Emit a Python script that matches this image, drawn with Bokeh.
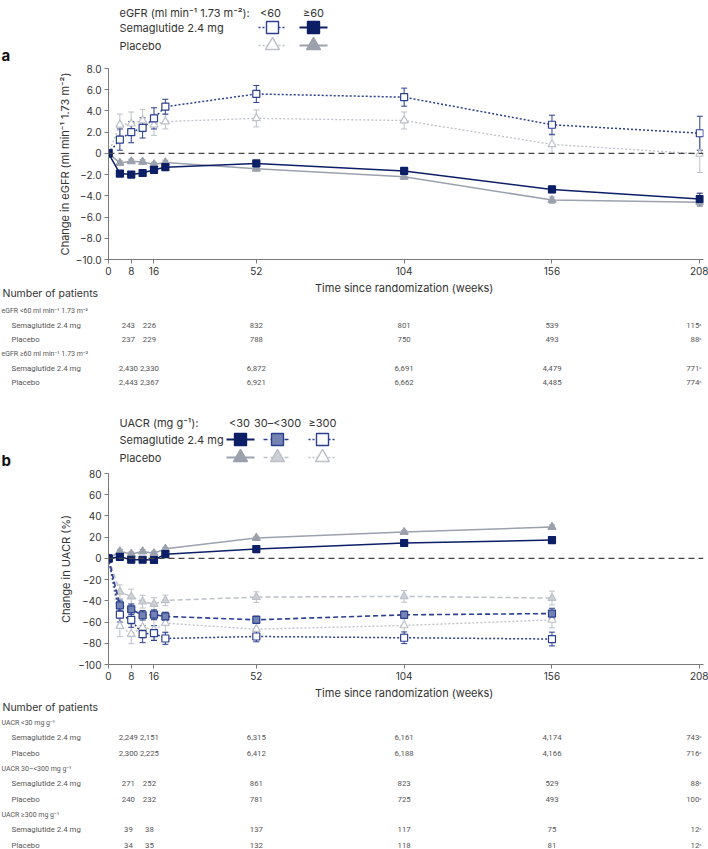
from bokeh.plotting import figure
from bokeh.models import ColumnDataSource, Whisker, TeeHead, Span, FixedTicker, Range1d
from bokeh.embed import file_html
from bokeh.resources import INLINE
from bokeh.core.properties import value

# ---------------- data: panel a (eGFR) ----------------
weeks_a = [0, 4, 8, 12, 16, 20, 52, 104, 156, 208]
sema_lt60 = [0, 1.3, 2.0, 2.4, 3.3, 4.4, 5.6, 5.3, 2.7, 1.9]
sema_lt60_err = [0, 1.0, 1.0, 0.95, 1.0, 0.7, 0.8, 0.85, 0.9, 1.6]
plac_lt60 = [0, 2.7, 2.8, 3.1, 2.7, 3.0, 3.3, 3.1, 0.85, -0.05]
plac_lt60_err = [0, 1.0, 1.1, 1.05, 1.0, 0.7, 0.8, 0.8, 0.85, 1.75]
sema_ge60 = [0, -1.9, -2.0, -1.85, -1.55, -1.3, -0.95, -1.65, -3.4, -4.3]
sema_ge60_err = [0, 0.2, 0.2, 0.2, 0.2, 0.2, 0.2, 0.25, 0.3, 0.55]
plac_ge60 = [0, -0.9, -0.75, -0.8, -1.05, -0.85, -1.45, -2.2, -4.4, -4.6]
plac_ge60_err = [0, 0.2, 0.2, 0.2, 0.2, 0.2, 0.2, 0.25, 0.3, 0.4]

# ---------------- data: panel b (UACR) ----------------
weeks_b = [0, 4, 8, 12, 16, 20, 52, 104, 156]
sema_lt30 = [0, 1.5, -1.3, -1.3, -1.5, 4.0, 8.8, 14.5, 17.3]
sema_lt30_err = [0, 1.5, 1.5, 1.5, 1.5, 1.2, 1.2, 1.3, 1.5]
plac_lt30 = [0, 6.5, 4.2, 6.5, 4.8, 9.0, 19.2, 24.8, 29.6]
plac_lt30_err = [0, 1.8, 1.8, 1.8, 1.8, 1.5, 1.5, 1.6, 1.8]
sema_30_300 = [0, -44.3, -48.0, -53.6, -53.0, -54.7, -57.9, -53.2, -52.0]
sema_30_300_err = [0, 5.0, 5.0, 4.5, 4.5, 4.0, 3.5, 3.5, 5.0]
plac_30_300 = [0, -31.5, -36.0, -40.8, -43.0, -39.6, -36.5, -35.8, -37.4]
plac_30_300_err = [0, 6.5, 7.0, 6.0, 6.0, 5.0, 5.0, 5.5, 6.5]
sema_ge300 = [0, -53.0, -57.9, -71.4, -70.4, -75.5, -73.6, -74.8, -76.0]
sema_ge300_err = [0, 7.0, 7.0, 8.0, 7.0, 5.5, 5.0, 5.5, 6.5]
plac_ge300 = [0, -63.8, -71.4, -65.0, -67.3, -61.0, -66.7, -63.2, -58.0]
plac_ge300_err = [0, 10.0, 9.0, 10.0, 9.0, 8.0, 7.0, 8.0, 7.5]

# ---------------- ticks ----------------
x_ticks = [0, 8, 16, 52, 104, 156, 208]
y_ticks_a = [-10, -8, -6, -4, -2, 0, 2, 4, 6, 8]
y_labels_a = ["\u221210.0", "\u22128.0", "\u22126.0", "\u22124.0", "\u22122.0", "0", "2.0", "4.0", "6.0", "8.0"]
y_ticks_b = [-100, -80, -60, -40, -20, 0, 20, 40, 60, 80]
y_labels_b = ["\u2212100", "\u221280", "\u221260", "\u221240", "\u221220", "0", "20", "40", "60", "80"]

# ---------------- number-at-risk tables ----------------
table_weeks = [7.0, 14.4, 52, 104, 156, 208]
tab_a_groups = ["eGFR <60 ml min\u207b\u00b9 1.73 m\u207b\u00b2", "eGFR \u226560 ml min\u207b\u00b9 1.73 m\u207b\u00b2"]
tab_a_sema = [["243", "226", "832", "801", "539", "115\u1d43"],
              ["2,430", "2,330", "6,872", "6,691", "4,479", "771\u1d43"]]
tab_a_plac = [["237", "229", "788", "750", "493", "88\u1d43"],
              ["2,443", "2,367", "6,921", "6,662", "4,485", "774\u1d43"]]
tab_b_groups = ["UACR <30 mg g\u207b\u00b9", "UACR 30\u2013<300 mg g\u207b\u00b9", "UACR \u2265300 mg g\u207b\u00b9"]
tab_b_sema = [["2,249", "2,151", "6,315", "6,161", "4,174", "743\u1d43"],
              ["271", "252", "861", "823", "529", "88\u1d43"],
              ["39", "38", "137", "117", "75", "12\u1d43"]]
tab_b_plac = [["2,300", "2,225", "6,412", "6,188", "4,166", "716\u1d43"],
              ["240", "232", "781", "725", "493", "100\u1d43"],
              ["34", "35", "132", "118", "81", "12\u1d43"]]

# ---------------- styling ----------------
W = 708
X_END = 209.3
FRAME_L = 108
FRAME_W = 595
S = FRAME_W / X_END  # px per week
FONT = "Inter"
TFONT = "Roboto"
TXT = "#333333"
TTXT = "#555555"
AX = "#7a7a7a"
NAVY = "#0c1f66"
BLUE = "#2b3f8f"
GRAY = "#9ba1ad"
LGRAY = "#bcc0c8"
MIDFILL = "#7583b3"
LFILL = "#cdd0d6"
DOT = "2 2"
DASH = "5 3"


def px2wk(px):
    return (px - FRAME_L) / S


def style_blank(p):
    p.grid.visible = False
    p.outline_line_color = None
    p.background_fill_color = "white"
    p.border_fill_color = "white"


def series(p, x, y, err, color, fill, marker, size, dash, lw):
    p.line(x, y, line_color=color, line_width=lw, line_dash=dash)
    xs = [a for a, e in zip(x, err) if e > 0]
    lo = [b - e for b, e in zip(y, err) if e > 0]
    hi = [b + e for b, e in zip(y, err) if e > 0]
    src = ColumnDataSource(dict(x=xs, lo=lo, hi=hi))
    w = Whisker(source=src, base="x", lower="lo", upper="hi", line_color=color, line_width=1,
                upper_head=TeeHead(size=6, line_color=color, line_width=1),
                lower_head=TeeHead(size=6, line_color=color, line_width=1))
    p.add_layout(w)
    p.scatter(x, y, marker=marker, size=size, fill_color=fill, line_color=color, line_width=1.2)


def make_plot(h, top, yr, yticks, ylabels, ylabel, standoff):
    p = figure(width=W, height=h, x_range=Range1d(0, X_END), y_range=Range1d(*yr),
               output_backend="svg", toolbar_location=None,
               min_border_left=FRAME_L, min_border_right=W - FRAME_L - FRAME_W,
               min_border_top=top, min_border_bottom=22)
    style_blank(p)
    for ax in (p.xaxis, p.yaxis):
        ax.axis_line_color = AX
        ax.major_tick_line_color = AX
        ax.minor_tick_line_color = None
        ax.major_tick_out = 4
        ax.major_tick_in = 0
        ax.major_label_text_font = FONT
        ax.major_label_text_font_size = "10px"
        ax.major_label_text_color = TXT
        ax.major_label_standoff = 3
    p.xaxis.ticker = FixedTicker(ticks=x_ticks)
    p.yaxis.ticker = FixedTicker(ticks=yticks)
    p.yaxis.major_label_overrides = {t: l for t, l in zip(yticks, ylabels)}
    p.yaxis.axis_label = ylabel
    p.yaxis.axis_label_text_font = FONT
    p.yaxis.axis_label_text_font_size = "11px"
    p.yaxis.axis_label_text_font_style = "normal"
    p.yaxis.axis_label_text_color = TXT
    p.yaxis.axis_label_standoff = standoff
    p.add_layout(Span(location=0, dimension="width", line_color="#444444", line_width=1.2, line_dash="6 4"))
    return p


def legend_fig(h, tag, tag_y, header, cols, col_x, row_y, head_y, samples):
    p = figure(width=W, height=h, x_range=Range1d(0, W), y_range=Range1d(h, 0),
               output_backend="svg", toolbar_location=None, min_border=0,
               min_border_left=0, min_border_right=0, min_border_top=0, min_border_bottom=0,
               x_axis_location=None, y_axis_location=None)
    style_blank(p)
    p.text(x=[1], y=[tag_y], text=[tag], text_font=value(FONT), text_font_size=value("15px"),
           text_font_style="bold", text_color="#111111", text_baseline="middle", text_align="left")
    p.text(x=[119], y=[head_y], text=[header], text_font=value(FONT), text_font_size=value("11px"),
           text_color=TXT, text_baseline="middle", text_align="left")
    p.text(x=col_x, y=[head_y] * len(col_x), text=cols, text_font=value(FONT), text_font_size=value("11px"),
           text_color=TXT, text_baseline="middle", text_align="center")
    p.text(x=[119, 119], y=row_y, text=["Semaglutide 2.4 mg", "Placebo"], text_font=value(FONT),
           text_font_size=value("11px"), text_color=TXT, text_baseline="middle", text_align="left")
    for (cx, ry, color, fill, marker, size, dash, lw) in samples:
        p.line([cx - 14, cx + 14], [ry, ry], line_color=color, line_width=lw, line_dash=dash)
        p.scatter([cx], [ry], marker=marker, size=size, fill_color=fill, line_color=color, line_width=1.4)
    return p


def table_fig(h, label_y, title_y, groups, sema, plac, group_y, d1, d2):
    p = figure(width=W, height=h, x_range=Range1d(px2wk(0), px2wk(W)), y_range=Range1d(h, 0),
               output_backend="svg", toolbar_location=None, min_border=0,
               min_border_left=0, min_border_right=0, min_border_top=0, min_border_bottom=0,
               x_axis_location=None, y_axis_location=None)
    style_blank(p)
    p.text(x=[104], y=[label_y], text=["Time since randomization (weeks)"], text_font=value(FONT),
           text_font_size=value("11px"), text_color=TXT, text_baseline="middle", text_align="center")
    p.text(x=[px2wk(2)], y=[title_y], text=["Number of patients"], text_font=value(FONT),
           text_font_size=value("10.5px"), text_color=TXT, text_baseline="middle", text_align="left")
    for g, gy, srow, prow in zip(groups, group_y, sema, plac):
        p.text(x=[px2wk(1)], y=[gy], text=[g], text_font=value(TFONT), text_font_size=value("7px"),
               text_color=TTXT, text_baseline="middle", text_align="left")
        for ry, name, row in ((gy + d1, "Semaglutide 2.4 mg", srow), (gy + d2, "Placebo", prow)):
            p.text(x=[px2wk(11)], y=[ry], text=[name], text_font=value(TFONT), text_font_size=value("7.8px"),
                   text_color=TTXT, text_baseline="middle", text_align="left")
            p.text(x=table_weeks[:-1], y=[ry] * 5, text=row[:-1], text_font=value(TFONT),
                   text_font_size=value("7.8px"), text_color=TTXT, text_baseline="middle", text_align="center")
            p.text(x=[px2wk(701)], y=[ry], text=[row[-1]], text_font=value(TFONT),
                   text_font_size=value("7.8px"), text_color=TTXT, text_baseline="middle", text_align="right")
    return p


# ---------------- panel a ----------------
leg_a = legend_fig(64, "a", 55, "eGFR (ml min\u207b\u00b9 1.73 m\u207b\u00b2):", ["<60", "\u226560"], [270, 313],
                   [27, 45], 12,
                   [(272, 27, BLUE, "white", "square", 12, DOT, 1.5),
                    (313, 27, NAVY, NAVY, "square", 12, "solid", 2),
                    (272, 45, LGRAY, "white", "triangle", 14, DOT, 1.5),
                    (313, 45, GRAY, GRAY, "triangle", 14, "solid", 2)])

pa = make_plot(217, 4, (-10, 8), y_ticks_a, y_labels_a,
               "Change in eGFR (ml min\u207b\u00b9 1.73 m\u207b\u00b2)", 1)
series(pa, weeks_a, plac_lt60, plac_lt60_err, LGRAY, "white", "triangle", 8, DOT, 1.3)
series(pa, weeks_a, plac_ge60, plac_ge60_err, GRAY, GRAY, "triangle", 8, "solid", 1.5)
series(pa, weeks_a, sema_lt60, sema_lt60_err, BLUE, "white", "square", 7, DOT, 1.5)
series(pa, weeks_a, sema_ge60, sema_ge60_err, NAVY, NAVY, "square", 7, "solid", 1.5)

tab_a = table_fig(111, 6, 12, tab_a_groups, tab_a_sema, tab_a_plac, [29, 72], 14.5, 29)

# ---------------- panel b ----------------
leg_b = legend_fig(77, "b", 67.5, "UACR (mg g\u207b\u00b9):", ["<30", "30\u2013<300", "\u2265300"], [239, 277, 322],
                   [47, 65], 30,
                   [(240, 47, NAVY, NAVY, "square", 12, "solid", 2),
                    (277, 47, BLUE, MIDFILL, "square", 12, "4 3", 1.5),
                    (322, 47, BLUE, "white", "square", 12, DOT, 1.5),
                    (240, 65, GRAY, GRAY, "triangle", 14, "solid", 2),
                    (277, 65, LGRAY, LFILL, "triangle", 14, "4 3", 1.5),
                    (322, 65, LGRAY, "white", "triangle", 14, DOT, 1.5)])

pb = make_plot(217, 4, (-100, 80), y_ticks_b, y_labels_b, "Change in UACR (%)", 2)
series(pb, weeks_b, plac_ge300, plac_ge300_err, LGRAY, "white", "triangle", 8, DOT, 1.3)
series(pb, weeks_b, plac_30_300, plac_30_300_err, LGRAY, LFILL, "triangle", 8, DASH, 1.5)
series(pb, weeks_b, plac_lt30, plac_lt30_err, GRAY, GRAY, "triangle", 8, "solid", 1.5)
series(pb, weeks_b, sema_ge300, sema_ge300_err, BLUE, "white", "square", 7, DOT, 1.5)
series(pb, weeks_b, sema_30_300, sema_30_300_err, BLUE, MIDFILL, "square", 7, DASH, 1.6)
series(pb, weeks_b, sema_lt30, sema_lt30_err, NAVY, NAVY, "square", 7, "solid", 1.5)

tab_b = table_fig(163, 6, 21, tab_b_groups, tab_b_sema, tab_b_plac, [36, 82, 128], 15, 30.5)

roots = [leg_a, pa, tab_a, leg_b, pb, tab_b]
open("out.html", "w").write(file_html(roots, INLINE))
